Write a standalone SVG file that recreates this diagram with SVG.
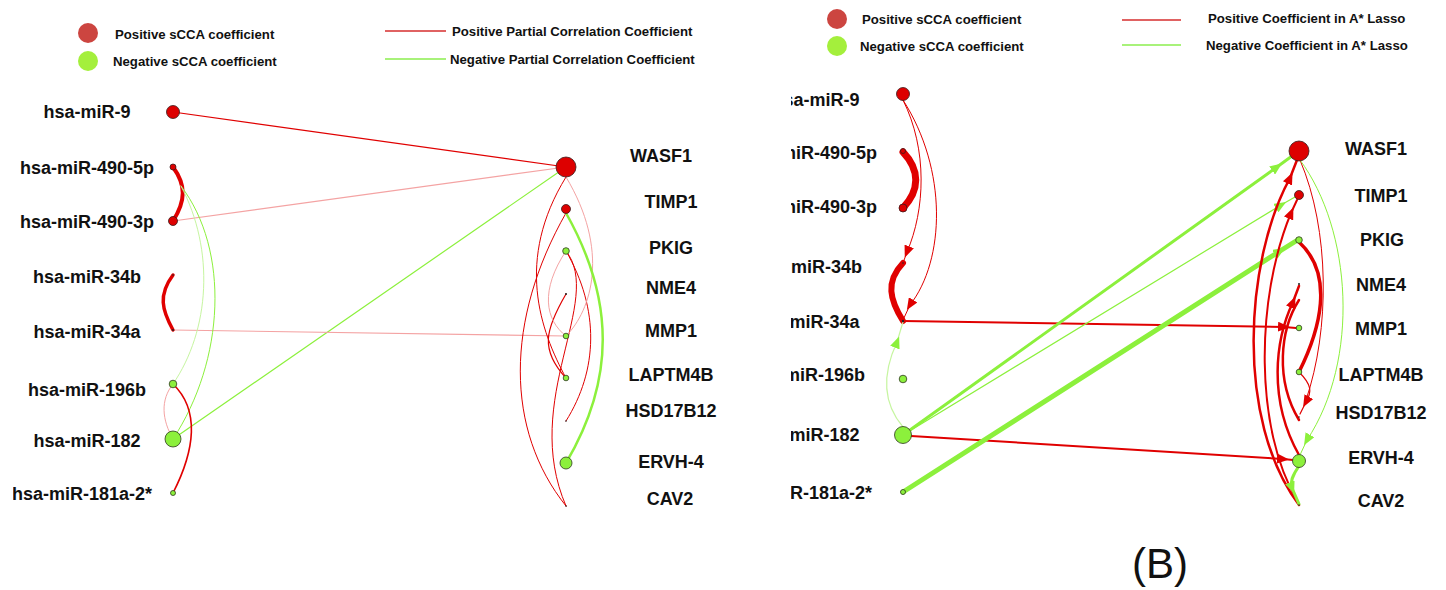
<svg xmlns="http://www.w3.org/2000/svg" width="1446" height="590" viewBox="0 0 1446 590">
  <style>
    .lbl { font-family: "Liberation Sans", Arial, sans-serif; font-weight: bold; font-size: 18px; fill: #111; text-anchor: middle; }
    .leg { font-family: "Liberation Sans", Arial, sans-serif; font-weight: bold; font-size: 13.2px; fill: #111; }
    .pos { fill: #dd0000; stroke: #3a1a1a; stroke-width: 0.8; }
    .neg { fill: #8cf03c; stroke: #2f3a20; stroke-width: 0.8; }
    .dot { fill: #222; }
    .e { fill: none; stroke-linecap: round; }
    .r { stroke: #e00000; }
    .rl { stroke: #f4a3a3; }
    .g { stroke: #8cf03c; }
    .gl { stroke: #c6f5a0; }
  </style>
  <defs>
    <marker id="ar" viewBox="0 0 12 10" refX="6" refY="5" markerWidth="12" markerHeight="10" markerUnits="userSpaceOnUse" orient="auto">
      <path d="M0,0 L12,5 L0,10 Z" fill="#e00000"/>
    </marker>
    <marker id="ag" viewBox="0 0 12 10" refX="6" refY="5" markerWidth="12" markerHeight="10" markerUnits="userSpaceOnUse" orient="auto">
      <path d="M0,0 L12,5 L0,10 Z" fill="#8cf03c"/>
    </marker>
    <clipPath id="clipL"><rect x="13" y="0" width="760" height="590"/></clipPath>
    <clipPath id="clipR"><rect x="791" y="0" width="655" height="590"/></clipPath>
  </defs>
  <rect width="1446" height="590" fill="#fff"/>

  <!-- legends -->
  <g id="legend-left">
    <circle cx="88" cy="33" r="10" fill="#cc4540"/>
    <text class="leg" x="115" y="38.5">Positive sCCA coefficient</text>
    <circle cx="88" cy="61" r="10" fill="#a4ef3c"/>
    <text class="leg" x="113" y="66">Negative sCCA coefficient</text>
    <line x1="385" y1="31" x2="446" y2="31" stroke="#e06262" stroke-width="2"/>
    <text class="leg" x="452" y="36">Positive Partial Correlation Coefficient</text>
    <line x1="385" y1="59" x2="446" y2="59" stroke="#a8f27a" stroke-width="2"/>
    <text class="leg" x="450" y="64">Negative Partial Correlation Coefficient</text>
  </g>
  <g id="legend-right">
    <circle cx="837" cy="19" r="10" fill="#cc4540"/>
    <text class="leg" x="862" y="24">Positive sCCA coefficient</text>
    <circle cx="837" cy="46" r="10" fill="#a4ef3c"/>
    <text class="leg" x="860" y="51">Negative sCCA coefficient</text>
    <line x1="1122" y1="20" x2="1181" y2="20" stroke="#e06262" stroke-width="2"/>
    <text class="leg" x="1208" y="23">Positive Coefficient in A* Lasso</text>
    <line x1="1122" y1="45" x2="1181" y2="45" stroke="#a8f27a" stroke-width="2"/>
    <text class="leg" x="1206" y="50">Negative Coefficient in A* Lasso</text>
  </g>

  <!-- connectors, partial correlation network -->
  <g id="edges-left">
    <path class="e r" stroke-width="1.2" d="M173,112 L566,167"/>
    <path class="e rl" stroke-width="1.2" d="M173,221 L566,167"/>
    <path class="e g" stroke-width="1.2" d="M173,439 L566,167"/>
    <path class="e rl" stroke-width="1.2" d="M173,330 L566,336"/>
    <path class="e r" stroke-width="4" d="M173,167 C186,185 186,200 173,221"/>
    <path class="e r" stroke-width="3.5" d="M173,275 C158,295 162,310 173,330"/>
    <path class="e g" stroke-width="1" d="M181,186 C230,250 225,360 173,439"/>
    <path class="e gl" stroke-width="1" d="M181,186 C215,250 210,330 173,384"/>
    <path class="e r" stroke-width="1.6" d="M173,384 C200,410 195,450 173,493"/>
    <path class="e rl" stroke-width="1" d="M173,384 C160,400 162,420 173,439"/>
    <!-- gene-gene links -->
    <path class="e r" stroke-width="1" d="M566,213 C505,320 505,430 566,506"/>
    <path class="e r" stroke-width="1" d="M566,177 C515,260 540,330 566,378"/>
    <path class="e r" stroke-width="1" d="M566,251 C605,300 520,400 566,506"/>
    <path class="e r" stroke-width="1" d="M566,251 C600,310 598,370 566,421"/>
    <path class="e r" stroke-width="1.2" d="M566,294 C545,330 540,350 566,378"/>
    <path class="e rl" stroke-width="1" d="M566,177 C610,250 592,310 566,336"/>
    <path class="e rl" stroke-width="1" d="M566,251 C540,290 545,320 566,336"/>
    <path class="e g" stroke-width="2.5" d="M566,213 C615,300 615,380 566,463"/>
  </g>

  <!-- connectors, A* Lasso network -->
  <g id="edges-right">
    <path class="e r" stroke-width="1" d="M903,100 C928,150 925,210 907,252 L903,263" marker-mid="url(#ar)"/>
    <path class="e r" stroke-width="1" d="M903,100 C948,170 945,260 910,305 L903,320" marker-mid="url(#ar)"/>
    <path class="e r" stroke-width="7" d="M903,152 C920,170 920,190 903,208"/>
    <path class="e r" stroke-width="6" d="M903,263 C885,282 890,300 903,321"/>
    <path class="e gl" stroke-width="1.2" d="M903,427 C880,400 884,370 897,342 L903,322" marker-mid="url(#ag)"/>
    <path class="e r" stroke-width="2" d="M903,321 L1284,327 L1296,328" marker-mid="url(#ar)"/>
    <path class="e r" stroke-width="2" d="M911,436 L1283,459 L1293,460" marker-mid="url(#ar)"/>
    <path class="e g" stroke-width="3" d="M903,435 L1277,167 L1292,156" marker-mid="url(#ag)"/>
    <path class="e g" stroke-width="1.2" d="M903,435 L1281,205 L1295,197" marker-mid="url(#ag)"/>
    <path class="e g" stroke-width="5" d="M903,492 L1280,251 L1296,241" marker-mid="url(#ag)"/>
    <!-- gene-gene links -->
    <path class="e r" stroke-width="2.5" d="M1299,505 C1235,420 1245,260 1290,178 L1297,160" marker-mid="url(#ar)"/>
    <path class="e r" stroke-width="2" d="M1297,500 C1255,430 1255,300 1291,213 L1297,200" marker-mid="url(#ar)"/>
    <path class="e r" stroke-width="2.5" d="M1299,455 C1268,400 1275,340 1293,302 L1299,286" marker-mid="url(#ar)"/>
    <path class="e r" stroke-width="3.5" d="M1299,242 C1335,275 1320,330 1299,372"/>
    <path class="e r" stroke-width="2.5" d="M1299,420 C1275,380 1280,330 1299,300"/>
    <path class="e r" stroke-width="1.2" d="M1299,372 C1312,385 1312,392 1306,402 L1300,414" marker-mid="url(#ar)"/>
    <path class="e r" stroke-width="1" d="M1300,160 C1330,230 1330,330 1306,400"/>
    <path class="e g" stroke-width="1" d="M1300,160 C1352,230 1360,360 1307,440 L1300,455" marker-mid="url(#ag)"/>
    <path class="e g" stroke-width="3" d="M1299,466 C1292,476 1290,482 1292,488 L1299,504" marker-mid="url(#ag)"/>
  </g>

  <!-- miRNA nodes, left network -->
  <g id="L-miR-9"><circle class="pos" cx="173" cy="112" r="6.5"/><text class="lbl" x="87" y="118">hsa-miR-9</text></g>
  <g id="L-miR-490-5p"><circle class="pos" cx="173" cy="167" r="3"/><text class="lbl" x="87" y="174">hsa-miR-490-5p</text></g>
  <g id="L-miR-490-3p"><circle class="pos" cx="173" cy="221" r="4.5"/><text class="lbl" x="87" y="227.5">hsa-miR-490-3p</text></g>
  <g id="L-miR-34b"><circle class="dot" cx="173" cy="275" r="0.8"/><text class="lbl" x="87" y="283">hsa-miR-34b</text></g>
  <g id="L-miR-34a"><circle class="dot" cx="173" cy="330" r="1"/><text class="lbl" x="87" y="338">hsa-miR-34a</text></g>
  <g id="L-miR-196b"><circle class="neg" cx="173" cy="384" r="3.8"/><text class="lbl" x="87" y="396">hsa-miR-196b</text></g>
  <g id="L-miR-182"><circle class="neg" cx="173" cy="439" r="8"/><text class="lbl" x="87" y="447">hsa-miR-182</text></g>
  <g id="L-miR-181a-2" clip-path="url(#clipL)"><circle class="neg" cx="173" cy="493" r="2.5"/><text class="lbl" x="82" y="500">hsa-miR-181a-2*</text></g>

  <!-- gene nodes, left network -->
  <g id="L-WASF1"><circle class="pos" cx="566" cy="167" r="10"/><text class="lbl" x="661" y="162">WASF1</text></g>
  <g id="L-TIMP1"><circle class="pos" cx="566" cy="209" r="4.5"/><text class="lbl" x="671" y="207.5">TIMP1</text></g>
  <g id="L-PKIG"><circle class="neg" cx="566" cy="251" r="3.3"/><text class="lbl" x="671" y="253.5">PKIG</text></g>
  <g id="L-NME4"><circle class="dot" cx="566" cy="294" r="1"/><text class="lbl" x="671" y="294">NME4</text></g>
  <g id="L-MMP1"><circle class="neg" cx="566" cy="336" r="2.8"/><text class="lbl" x="671" y="337">MMP1</text></g>
  <g id="L-LAPTM4B"><circle class="neg" cx="566" cy="378" r="2.8"/><text class="lbl" x="671" y="380.5">LAPTM4B</text></g>
  <g id="L-HSD17B12"><circle class="dot" cx="566" cy="421" r="0.8"/><text class="lbl" x="671" y="416.5">HSD17B12</text></g>
  <g id="L-ERVH-4"><circle class="neg" cx="566" cy="463" r="6"/><text class="lbl" x="671" y="468">ERVH-4</text></g>
  <g id="L-CAV2"><circle class="dot" cx="566" cy="506" r="0.8"/><text class="lbl" x="670" y="504.5">CAV2</text></g>

  <!-- miRNA nodes, right network -->
  <g clip-path="url(#clipR)">
    <g id="R-miR-9"><circle class="pos" cx="903" cy="94" r="6.5"/><text class="lbl" x="816" y="106">hsa-miR-9</text></g>
    <g id="R-miR-490-5p"><circle class="pos" cx="903" cy="151" r="2.5"/><text class="lbl" x="810" y="159">hsa-miR-490-5p</text></g>
    <g id="R-miR-490-3p"><circle class="pos" cx="903" cy="208" r="4"/><text class="lbl" x="810" y="213">hsa-miR-490-3p</text></g>
    <g id="R-miR-34b"><circle class="dot" cx="903" cy="263" r="0.8"/><text class="lbl" x="808" y="273">hsa-miR-34b</text></g>
    <g id="R-miR-34a"><circle class="dot" cx="903" cy="321" r="1.2"/><text class="lbl" x="806" y="328">hsa-miR-34a</text></g>
    <g id="R-miR-196b"><circle class="neg" cx="903" cy="379" r="3.8"/><text class="lbl" x="806" y="381">hsa-miR-196b</text></g>
    <g id="R-miR-182"><circle class="neg" cx="903" cy="435" r="8.5"/><text class="lbl" x="806" y="441">hsa-miR-182</text></g>
    <g id="R-miR-181a-2"><circle class="neg" cx="903" cy="492" r="2.5"/><text class="lbl" x="802" y="499">hsa-miR-181a-2*</text></g>
  </g>

  <!-- gene nodes, right network -->
  <g id="R-WASF1"><circle class="pos" cx="1299" cy="151" r="10"/><text class="lbl" x="1376" y="154.5">WASF1</text></g>
  <g id="R-TIMP1"><circle class="pos" cx="1299" cy="195" r="4.5"/><text class="lbl" x="1381" y="201.5">TIMP1</text></g>
  <g id="R-PKIG"><circle class="neg" cx="1299" cy="240" r="3.3"/><text class="lbl" x="1382" y="245.5">PKIG</text></g>
  <g id="R-NME4"><circle class="dot" cx="1299" cy="284" r="1"/><text class="lbl" x="1381" y="291">NME4</text></g>
  <g id="R-MMP1"><circle class="neg" cx="1299" cy="328" r="2.8"/><text class="lbl" x="1381" y="335">MMP1</text></g>
  <g id="R-LAPTM4B"><circle class="neg" cx="1299" cy="372" r="2.8"/><text class="lbl" x="1381" y="380.5">LAPTM4B</text></g>
  <g id="R-HSD17B12"><circle class="dot" cx="1299" cy="417" r="0.8"/><text class="lbl" x="1381" y="418.5">HSD17B12</text></g>
  <g id="R-ERVH-4"><circle class="neg" cx="1299" cy="461" r="6.5"/><text class="lbl" x="1381" y="463.5">ERVH-4</text></g>
  <g id="R-CAV2"><circle class="dot" cx="1299" cy="505" r="0.8"/><text class="lbl" x="1381" y="506.5">CAV2</text></g>

  <text x="1160" y="578" font-family="'Liberation Sans', Arial, sans-serif" font-size="42" fill="#111" text-anchor="middle">(B)</text>
</svg>
